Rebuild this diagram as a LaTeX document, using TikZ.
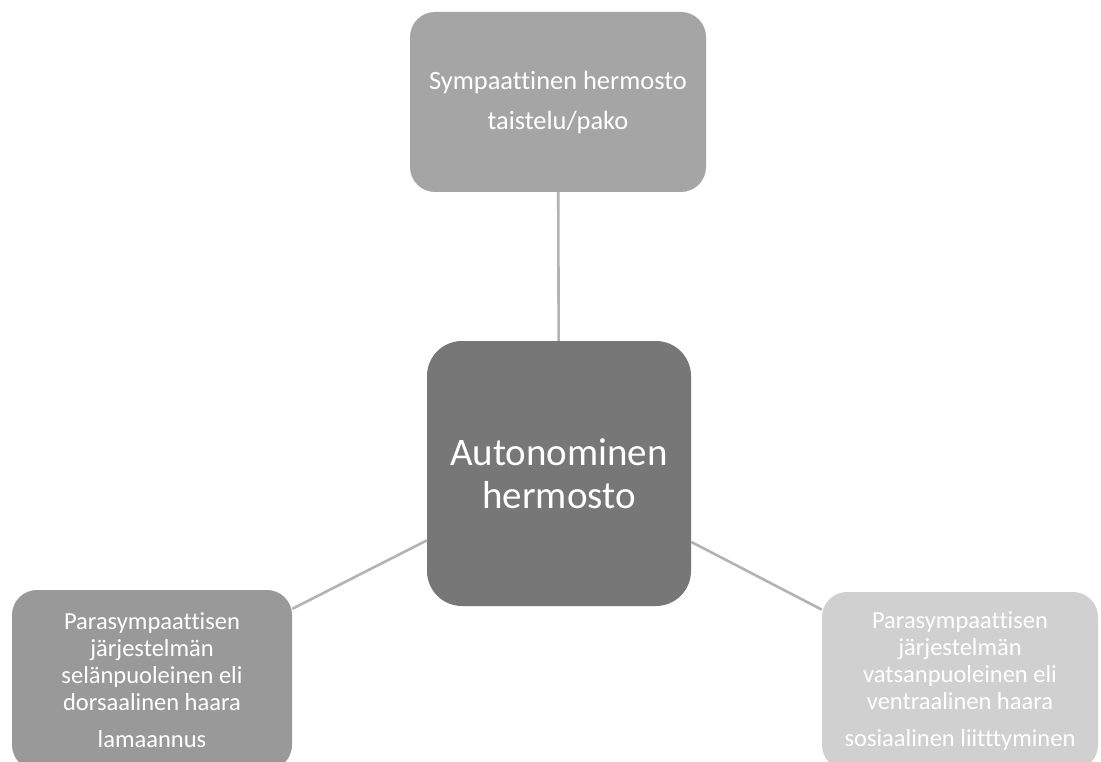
\documentclass[tikz,border=0pt]{standalone}
\usepackage{fontspec}
\setmainfont{Carlito}[Ligatures={NoCommon}]
\definecolor{topgray}{HTML}{A5A5A5}
\definecolor{midgray}{HTML}{777777}
\definecolor{leftgray}{HTML}{999999}
\definecolor{rightgray}{HTML}{D0D0D0}
\definecolor{linkgray}{HTML}{B3B3B3}
\tikzset{
  box/.style={rectangle, inner sep=0pt, align=center, text=white},
  link/.style={draw=linkgray, line width=2.6pt}
}
\begin{document}
\begin{tikzpicture}[x=1pt,y=-1pt]
\clip (0,0) rectangle (1101,762);
\fill[white] (0,0) rectangle (1101,762);
\node[box, fill=topgray, rounded corners=25pt, minimum width=296pt, minimum height=180pt,
  font=\fontsize{26.4}{29}\selectfont] (top) at (558,102)
  {Sympaattinen hermosto\\[11pt]taistelu/pako};
\node[box, fill=midgray, rounded corners=35pt, minimum width=264pt, minimum height=265pt,
  font=\fontsize{39}{43}\selectfont] (mid) at (559,473.5)
  {Autonominen\\hermosto};
\node[box, fill=leftgray, rounded corners=25pt, minimum width=280pt, minimum height=180pt,
  font=\fontsize{24.5}{27}\selectfont] (left) at (152,680)
  {Parasympaattisen\\järjestelmän\\selänpuoleinen eli\\dorsaalinen haara\\[10pt]lamaannus};
\node[box, fill=rightgray, rounded corners=25pt, minimum width=276pt, minimum height=178pt,
  font=\fontsize{24.5}{27}\selectfont] (right) at (960,681)
  {Parasympaattisen\\järjestelmän\\vatsanpuoleinen eli\\ventraalinen haara\\[10pt]sosiaalinen liitttyminen};
\draw[link] (mid) -- (top);
\draw[link] (mid) -- (left);
\draw[link] (mid) -- (right);
\end{tikzpicture}
\end{document}
